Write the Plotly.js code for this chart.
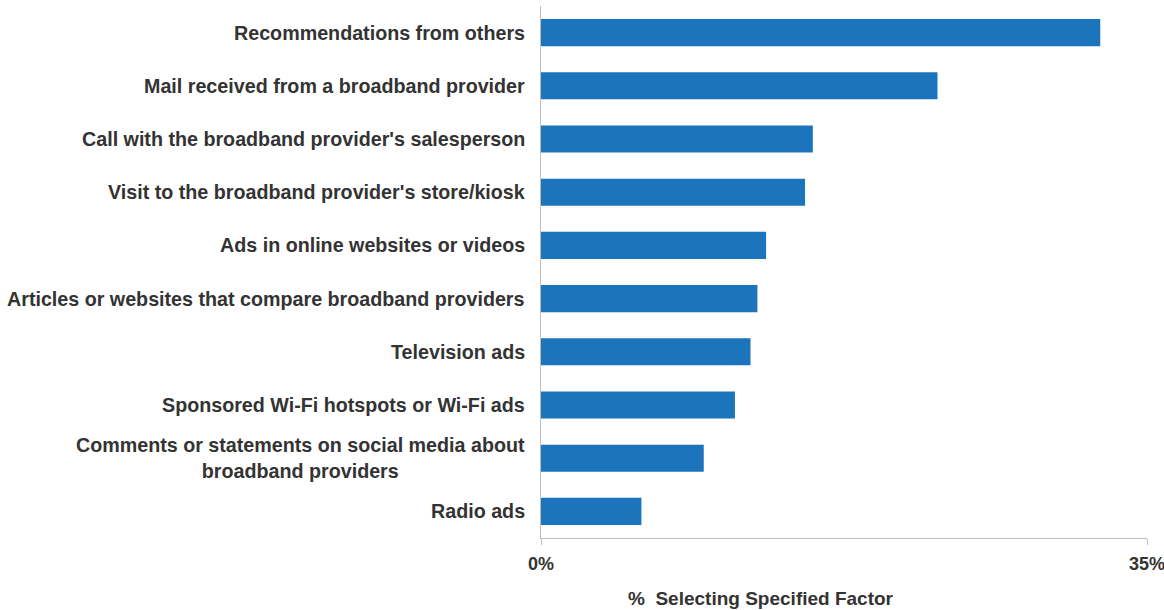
<!DOCTYPE html>
<html>
<head>
<meta charset="utf-8">
<script src="https://cdn.plot.ly/plotly-3.0.1.min.js"></script>
<style>html,body{margin:0;padding:0;background:#fff;}#chart{width:1164px;height:610px;}</style>
</head>
<body>
<div id="chart"></div>
<script>
const categories = [
  "Recommendations from others",
  "Mail received from a broadband provider",
  "Call with the broadband provider's salesperson",
  "Visit to the broadband provider's store/kiosk",
  "Ads in online websites or videos",
  "Articles or websites that compare broadband providers",
  "Television ads",
  "Sponsored Wi-Fi hotspots or Wi-Fi ads",
  "Comments or statements on social media about<br>broadband providers",
  "Radio ads"
];
const values = [32.3, 22.9, 15.7, 15.25, 13.0, 12.5, 12.1, 11.2, 9.4, 5.8];
const xTickVals = [0, 35];
const xTickText = ["0%", "35%"];
const xTitle = "%\u00a0 Selecting Specified Factor";

const font = "Liberation Sans, Arial, sans-serif";
const textColor = "#333333";

const trace = {
  type: "bar",
  orientation: "h",
  x: values,
  y: categories,
  marker: {color: "#1c75bc"},
  width: 0.51,
  hoverinfo: "x+y"
};

const annotations = categories.map(c => ({
  text: "<b>" + c + "</b>",
  xref: "paper", x: 0, xanchor: "right", xshift: -14,
  yref: "y", y: c, yanchor: "middle",
  align: "center", showarrow: false,
  font: {family: font, size: 19.7, color: textColor}
}));
annotations.push({
  text: "<b>" + xTitle + "</b>",
  xref: "paper", x: (761 - 541) / 606, xanchor: "center",
  yref: "paper", y: 0, yanchor: "middle", yshift: -60,
  showarrow: false,
  font: {family: font, size: 19, color: textColor}
});

const layout = {
  width: 1164, height: 610,
  margin: {l: 541, r: 17, t: 6, b: 72},
  paper_bgcolor: "#fff", plot_bgcolor: "#fff",
  showlegend: false,
  font: {family: font, color: textColor},
  xaxis: {
    range: [0, 35],
    tickvals: xTickVals, ticktext: xTickText,
    ticks: "outside", ticklen: 6, tickcolor: "#bfbfbf", tickwidth: 1,
    ticklabelstandoff: 3, ticklabeloverflow: "allow",
    showline: true, linecolor: "#bfbfbf", linewidth: 1,
    showgrid: false, zeroline: false,
    tickfont: {family: font, size: 18, color: textColor, weight: "bold"},
    fixedrange: true
  },
  yaxis: {
    categoryorder: "array", categoryarray: categories.slice().reverse(),
    showticklabels: false, ticks: "",
    showline: true, linecolor: "#bfbfbf", linewidth: 1,
    showgrid: false, zeroline: false,
    fixedrange: true
  },
  annotations: annotations
};

Plotly.newPlot("chart", [trace], layout, {displayModeBar: false, staticPlot: true});
</script>
</body>
</html>
